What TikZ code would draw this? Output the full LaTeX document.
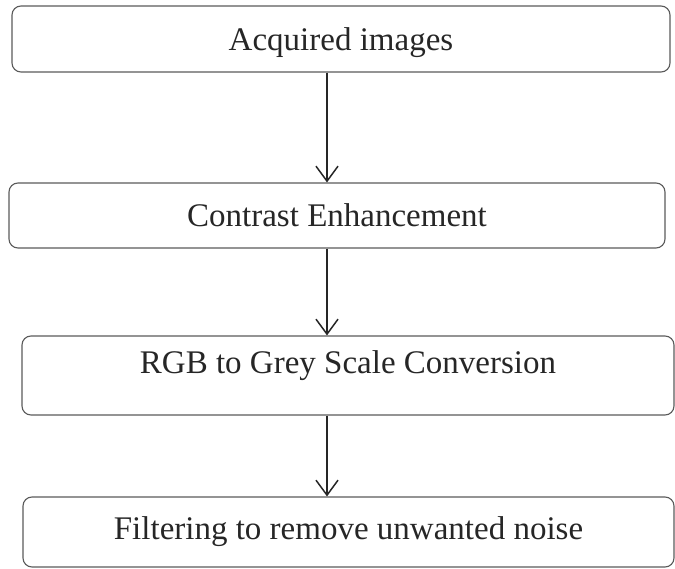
\documentclass[tikz,border=0pt]{standalone}
\usepackage{fontspec}
\setmainfont{Liberation Serif}
\usetikzlibrary{arrows.meta}
\definecolor{Ink}  {HTML}{262626}
\definecolor{Frame}{HTML}{5A5A5A}

\tikzset{
  stage/.style={draw=Frame, line width=1.1pt, rounded corners=9pt, text=Ink,
                font=\fontsize{33}{36}\selectfont, inner sep=0pt},
  flow/.style={Ink, line width=1.5pt, -{Straight Barb[length=15pt, width=22pt]}}
}

\begin{document}
\begin{tikzpicture}[x=1pt, y=-1pt]
  \useasboundingbox (0,0) rectangle (675,569);
  \node[stage, minimum width=658pt, minimum height=66pt, text height=31pt]
                                                          (acq)      at (341,39)    {Acquired images};
  \node[stage, minimum width=656pt, minimum height=65pt] (contrast) at (337,215.5) {Contrast Enhancement};
  \node[stage, minimum width=652pt, minimum height=79pt, text depth=26pt]
                                                          (grey)     at (348,375.5) {RGB to Grey Scale Conversion};
  \node[stage, minimum width=651pt, minimum height=70pt] (filter)   at (348.5,532) {Filtering to remove unwanted noise};
  % Arrows run down one line
  \coordinate (arrx) at (327,0);
  \draw[flow] (acq.south -| arrx)      -- (contrast.north -| arrx);
  \draw[flow] (contrast.south -| arrx) -- (grey.north -| arrx);
  \draw[flow] (grey.south -| arrx)     -- (filter.north -| arrx);
\end{tikzpicture}
\end{document}
